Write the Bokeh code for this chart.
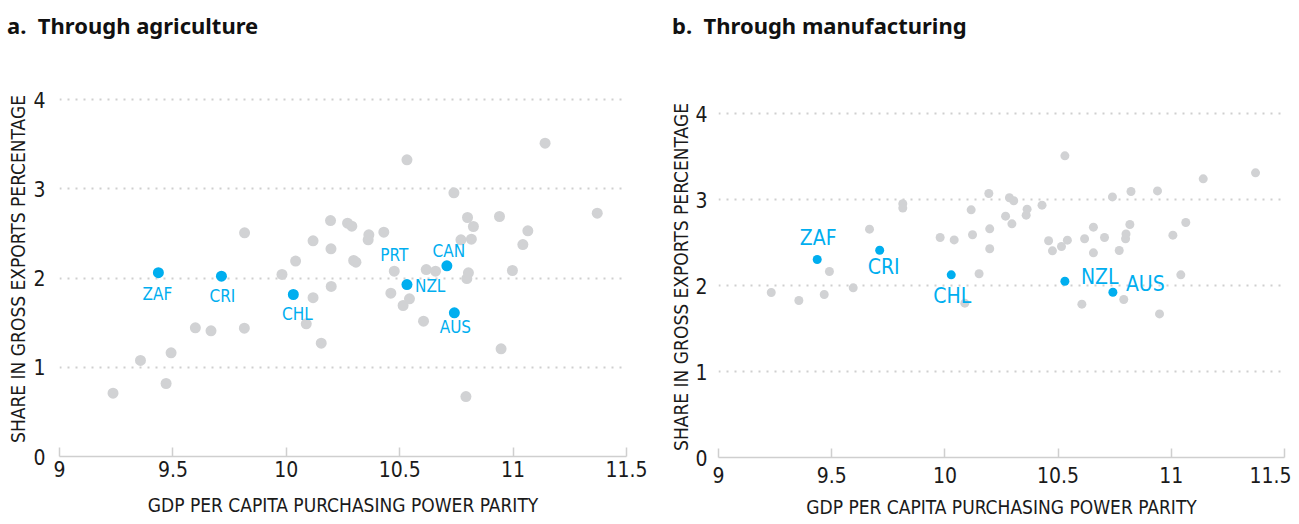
from bokeh.plotting import figure
from bokeh.models import Range1d, FixedTicker, Label, Div
from bokeh.layouts import row, column
from bokeh.embed import file_html
from bokeh.resources import INLINE

# ---------------- data ----------------
# Panel a: through agriculture (log GDP per capita PPP, share in gross exports %)
agri_gdp = [9.236, 9.357, 9.470, 9.492, 9.599, 9.668, 9.815, 9.816, 9.981, 10.041,
            10.088, 10.118, 10.118, 10.154, 10.195, 10.197, 10.198, 10.270, 10.289, 10.297,
            10.307, 10.361, 10.364, 10.430, 10.461, 10.476, 10.515, 10.532, 10.543, 10.605,
            10.617, 10.658, 10.739, 10.770, 10.792, 10.796, 10.799, 10.803, 10.816, 10.825,
            10.940, 10.947, 10.997, 11.043, 11.065, 11.141, 11.371]
agri_share = [0.709, 1.076, 0.818, 1.162, 1.442, 1.408, 1.438, 2.506, 2.040, 2.190,
              1.487, 2.417, 1.780, 1.270, 2.644, 2.327, 1.905, 2.614, 2.580, 2.196,
              2.177, 2.428, 2.484, 2.514, 1.830, 2.076, 1.692, 3.324, 1.767, 1.516,
              2.095, 2.076, 2.955, 2.428, 0.672, 1.994, 2.678, 2.058, 2.435, 2.577,
              2.689, 1.206, 2.084, 2.375, 2.529, 3.510, 2.726]
agri_hl_code = ["ZAF", "CRI", "CHL", "NZL", "CAN", "AUS"]
agri_hl_gdp = [9.436, 9.714, 10.031, 10.532, 10.708, 10.741]
agri_hl_share = [2.060, 2.020, 1.815, 1.927, 2.137, 1.610]
agri_note_code = ["PRT"]
agri_note_gdp = [10.476]
agri_note_share = [2.076]

# Panel b: through manufacturing
manu_gdp = [9.233, 9.355, 9.467, 9.490, 9.595, 9.667, 9.814, 9.814, 9.979, 10.041,
            10.088, 10.116, 10.122, 10.151, 10.194, 10.198, 10.198, 10.268, 10.285, 10.296,
            10.304, 10.359, 10.363, 10.429, 10.458, 10.475, 10.515, 10.530, 10.541, 10.605,
            10.617, 10.656, 10.656, 10.705, 10.740, 10.770, 10.790, 10.798, 10.800, 10.817,
            10.822, 10.939, 10.948, 11.007, 11.042, 11.064, 11.141, 11.372]
manu_share = [1.919, 1.826, 1.895, 2.163, 1.973, 2.655, 2.950, 2.900, 2.558, 2.530,
              1.795, 2.880, 2.590, 2.136, 3.070, 2.659, 2.427, 2.806, 3.020, 2.717,
              2.985, 2.818, 2.888, 2.934, 2.520, 2.403, 2.453, 3.508, 2.527, 1.783,
              2.543, 2.678, 2.380, 2.558, 3.030, 2.407, 1.837, 2.543, 2.600, 2.709,
              3.093, 3.100, 1.670, 2.585, 2.124, 2.733, 3.240, 3.310]
manu_hl_code = ["ZAF", "CRI", "CHL", "NZL", "AUS"]
manu_hl_gdp = [9.436, 9.712, 10.028, 10.530, 10.742]
manu_hl_share = [2.302, 2.410, 2.124, 2.050, 1.922]

x_ticks = [9, 9.5, 10, 10.5, 11, 11.5]
y_ticks = [0, 1, 2, 3, 4]
grid_ticks = [1, 2, 3, 4]

title_a = "a.&nbsp; Through agriculture"
title_b = "b.&nbsp; Through manufacturing"
x_title = "GDP PER CAPITA PURCHASING POWER PARITY"
y_title = "SHARE IN GROSS EXPORTS PERCENTAGE"

# ---------------- style ----------------
NARROW = "'Liberation Sans Narrow', 'Arial Narrow', 'DejaVu Sans Condensed', sans-serif"
BLUE = "#00aeef"
GRAY = "#d1d2d4"
AXIS_GRAY = "#cfcfcf"
TEXT = "#1a1a1a"


def title_div(text, width, pad_left):
    html = ('<div style="font-family:\'Noto Sans\',\'Open Sans\',sans-serif;'
            'font-weight:bold;font-size:22px;line-height:22px;color:#111;'
            'white-space:nowrap;padding-top:14px;padding-left:%dpx;">%s</div>' % (pad_left, text))
    return Div(text=html, width=width, height=40, margin=0)


def make_panel(frame_w, frame_h, y_end, mb_left, mb_right, mb_top, mb_bottom,
               xstand, ystand, ylab_stand, xlab_stand):
    p = figure(frame_width=frame_w, frame_height=frame_h,
               x_range=Range1d(9, 11.5), y_range=Range1d(0, y_end),
               min_border_left=mb_left, min_border_right=mb_right,
               min_border_top=mb_top, min_border_bottom=mb_bottom,
               output_backend="svg", toolbar_location=None,
               background_fill_color="white", border_fill_color="white")
    p.outline_line_color = None
    p.xgrid.visible = False
    p.ygrid.ticker = FixedTicker(ticks=grid_ticks)
    p.ygrid.grid_line_color = "#cfcfcf"
    p.ygrid.grid_line_width = 2
    p.ygrid.grid_line_dash = "2 6"

    xa = p.xaxis[0]
    xa.ticker = FixedTicker(ticks=x_ticks)
    xa.axis_line_color = AXIS_GRAY
    xa.axis_line_width = 1.5
    xa.major_tick_line_color = AXIS_GRAY
    xa.major_tick_line_width = 1.5
    xa.major_tick_in = 9
    xa.major_tick_out = 0
    xa.minor_tick_line_color = None
    xa.major_label_text_font = NARROW
    xa.major_label_text_font_size = "21px"
    xa.major_label_text_color = TEXT
    xa.major_label_standoff = xstand
    xa.axis_label = x_title
    xa.axis_label_text_font = NARROW
    xa.axis_label_text_font_size = "19px"
    xa.axis_label_text_font_style = "normal"
    xa.axis_label_text_color = TEXT
    xa.axis_label_standoff = xlab_stand

    ya = p.yaxis[0]
    ya.ticker = FixedTicker(ticks=y_ticks)
    ya.axis_line_color = None
    ya.major_tick_line_color = None
    ya.minor_tick_line_color = None
    ya.major_label_text_font = NARROW
    ya.major_label_text_font_size = "21px"
    ya.major_label_text_color = TEXT
    ya.major_label_standoff = ystand
    ya.axis_label = y_title
    ya.axis_label_text_font = NARROW
    ya.axis_label_text_font_size = "19px"
    ya.axis_label_text_font_style = "normal"
    ya.axis_label_text_color = TEXT
    ya.axis_label_standoff = ylab_stand
    return p


# ---------------- panel a ----------------
pa = make_panel(567, 375, 375 / 89.25, 59, 24, 41, 60, 4, 8, 1, 14)
pa.scatter(agri_gdp, agri_share, marker="circle", size=11, color=GRAY, line_color=None)
pa.scatter(agri_hl_gdp, agri_hl_share, marker="circle", size=11, color=BLUE, line_color=None)

# label placement (dx, dy in px; dy positive = up), alignment
a_place = {"ZAF": (-1, -21, "center"), "CRI": (1, -20, "center"), "CHL": (4, -19, "center"),
           "NZL": (8, -1, "left"), "CAN": (2, 15, "center"), "AUS": (1, -14, "center"),
           "PRT": (0, 16, "center")}
for c, gx, sy in list(zip(agri_hl_code, agri_hl_gdp, agri_hl_share)) + \
        list(zip(agri_note_code, agri_note_gdp, agri_note_share)):
    dx, dy, al = a_place[c]
    pa.add_layout(Label(x=gx, y=sy, x_offset=dx, y_offset=dy, text=c,
                        text_font=NARROW, text_font_size="17px", text_color=BLUE,
                        text_align=al, text_baseline="middle"))

# ---------------- panel b ----------------
pb = make_panel(566, 361, 361 / 86.0, 68, 7, 56, 59, 9, 5, 0, 10)
pb.scatter(manu_gdp, manu_share, marker="circle", size=9, color=GRAY, line_color=None)
pb.scatter(manu_hl_gdp, manu_hl_share, marker="circle", size=9, color=BLUE, line_color=None)

b_place = {"ZAF": (1, 22, "center"), "CRI": (4, -17, "center"), "CHL": (1, -21, "center"),
           "NZL": (16, 4, "left"), "AUS": (13, 8, "left")}
for c, gx, sy in zip(manu_hl_code, manu_hl_gdp, manu_hl_share):
    dx, dy, al = b_place[c]
    pb.add_layout(Label(x=gx, y=sy, x_offset=dx, y_offset=dy, text=c,
                        text_font=NARROW, text_font_size="21px", text_color=BLUE,
                        text_align=al, text_baseline="middle"))

layout = row(column(title_div(title_a, 650, 7), pa),
             column(title_div(title_b, 641, 22), pb))
open("out.html", "w").write(file_html(layout, INLINE))
